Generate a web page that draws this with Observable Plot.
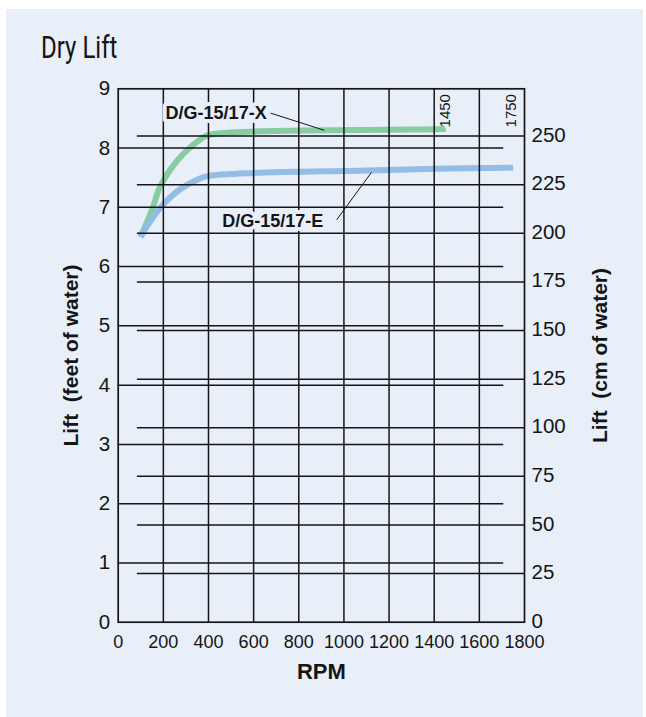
<!DOCTYPE html>
<html><head><meta charset="utf-8">
<script src="https://cdn.jsdelivr.net/npm/d3@7"></script>
<script src="https://cdn.jsdelivr.net/npm/@observablehq/plot@0.6"></script>
<style>
html,body{margin:0;padding:0;background:#fff;}
#page{position:relative;width:646px;height:717px;overflow:hidden;background:#fff;}
#panel{position:absolute;left:6px;top:9px;width:637px;height:708px;background:#e8eff9;}
#title{position:absolute;left:41px;top:31px;font-family:Roboto,"Liberation Sans",sans-serif;font-size:32px;line-height:32px;transform:scaleX(0.75);transform-origin:left top;color:#151515;white-space:nowrap;}
#chart{position:absolute;left:0;top:70px;}
</style>
</head><body>
<div id="page"><div id="panel"></div><div id="title">Dry Lift</div><div id="chart"></div></div>
<script>
// ---- data ----
const CM_PER_FT = 30.48;
const xTicks = [0,200,400,600,800,1000,1200,1400,1600,1800];
const ftTicks = [0,1,2,3,4,5,6,7,8,9];
const cmTicks = [0,25,50,75,100,125,150,175,200,225,250];
const xGrid = [200,400,600,800,1000,1200,1400,1600];
const ftGrid = [1,2,3,4,5,6,7,8];
const cmGrid = [25,50,75,100,125,150,175,200,225,250];
const ftGridEnd = 1708;   // ft lines stop short of the right frame
const cmGridStart = 85;   // cm lines start right of the left frame

const rpmX  = [99, 151, 185, 262, 365, 398, 601, 912, 1200, 1436, 1450];
const liftX = [6.50, 6.97, 7.34, 7.79, 8.15, 8.22, 8.28, 8.30, 8.31, 8.32, 8.33];
const rpmE  = [99, 143, 202, 276, 365, 400, 601, 1104, 1400, 1750];
const liftE = [6.50, 6.77, 7.06, 7.31, 7.49, 7.53, 7.58, 7.62, 7.65, 7.67];

const labelPos = [{name:"D/G-15/17-X", rpm:210, lift:8.59}, {name:"D/G-15/17-E", rpm:461, lift:6.76}];
const leaders = [{x1:675, y1:8.59, x2:913, y2:8.30}, {x1:968, y1:6.79, x2:1122, y2:7.59}];
const maxRpmLabels = [{rpm:1450, lift:8.63, text:"1450"}, {rpm:1740, lift:8.63, text:"1750"}];
const xLabel = "RPM";
const yLabelLeft = "Lift  (feet of water)";
const yLabelRight = "Lift  (cm of water)";

const colX = "#88cca3";
const colE = "#93bce7";
const ink = "#151515";
const bg = "#e8eff9";

const dataX = rpmX.map((r,i)=>({rpm:r, lift:liftX[i]}));
const dataE = rpmE.map((r,i)=>({rpm:r, lift:liftE[i]}));

const chart = Plot.plot({
  width: 646,
  height: 647,
  marginTop: 18.3,
  marginBottom: 95.3,
  marginLeft: 117.7,
  marginRight: 122,
  x: {domain: [0, 1800]},
  y: {domain: [0, 9]},
  style: {background: "transparent", fontFamily: "'Liberation Sans', Arial, sans-serif", color: ink},
  marks: [
    Plot.line(dataX, {x:"rpm", y:"lift", stroke: colX, strokeWidth: 6, curve: "catmull-rom", strokeLinecap:"butt"}),
    Plot.line(dataE, {x:"rpm", y:"lift", stroke: colE, strokeWidth: 6, curve: "catmull-rom", strokeLinecap:"butt"}),
    Plot.ruleX(xGrid, {y1: 0, y2: 9, stroke: ink, strokeWidth: 1.5}),
    Plot.ruleY(ftGrid, {x1: 0, x2: ftGridEnd, stroke: ink, strokeWidth: 1.5}),
    Plot.ruleY(cmGrid.map(c => c / CM_PER_FT), {x1: cmGridStart, x2: 1800, stroke: ink, strokeWidth: 1.5}),
    Plot.frame({stroke: ink, strokeWidth: 1.7}),
    Plot.axisX({ticks: xTicks, tickSize: 0, tickPadding: 13, fontSize: 18, label: null, tickFormat: d => String(d)}),
    Plot.axisY({ticks: ftTicks, tickSize: 0, tickPadding: 8, fontSize: 20.5, label: null}),
    Plot.axisY({anchor: "right", ticks: cmTicks.map(c => c / CM_PER_FT), tickFormat: d => String(Math.round(d * CM_PER_FT)), tickSize: 0, tickPadding: 7, fontSize: 20.5, label: null, dy: -1}),
    Plot.link(leaders, {x1:"x1", y1:"y1", x2:"x2", y2:"y2", stroke: ink, strokeWidth: 1}),
    Plot.text(labelPos, {x:"rpm", y:"lift", text:"name", textAnchor:"start", lineAnchor:"middle", fontSize: 18, fontWeight:"bold", fill: ink, stroke: bg, strokeWidth: 8}),
    Plot.text(maxRpmLabels, {x:"rpm", y:"lift", text:"text", rotate:-90, textAnchor:"middle", lineAnchor:"middle", fontSize: 15, fill: ink}),
    Plot.text([yLabelLeft], {frameAnchor:"left", dx:-46.7, rotate:-90, textAnchor:"middle", lineAnchor:"middle", fontSize: 21, fontWeight:"bold", fill: ink}),
    Plot.text([yLabelRight], {frameAnchor:"right", dx:76, rotate:-90, textAnchor:"middle", lineAnchor:"middle", fontSize: 21, fontWeight:"bold", fill: ink}),
    Plot.text([xLabel], {frameAnchor:"bottom", dy:49.5, textAnchor:"middle", lineAnchor:"middle", fontSize: 22, fontWeight:"bold", fill: ink})
  ]
});
document.getElementById("chart").appendChild(chart);
</script>
</body></html>
